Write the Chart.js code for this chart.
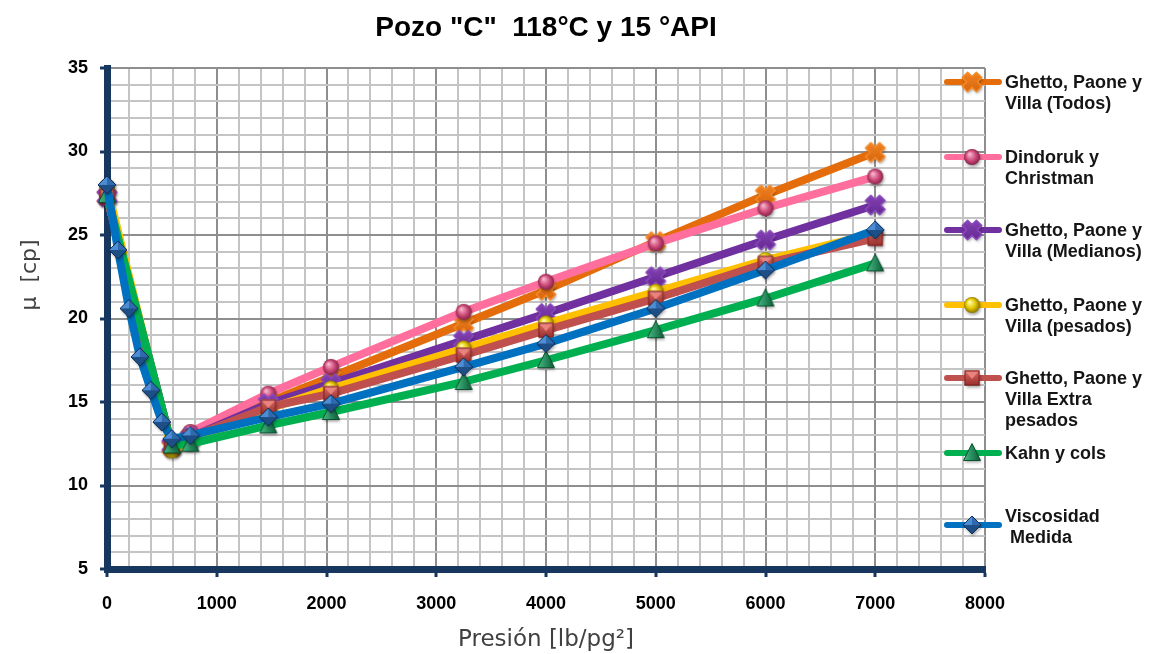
<!DOCTYPE html>
<html>
<head>
<meta charset="utf-8">
<script src="https://cdn.jsdelivr.net/npm/chart.js@4.4.1/dist/chart.umd.min.js"></script>
<style>
  body { margin: 0; background: #fff; }
  #wrap { position: relative; width: 1150px; height: 654px; }
  .item { position: absolute; left: 1005px; font: bold 18px "Liberation Sans", Arial, sans-serif; line-height: 21px; color: #151515; white-space: pre; }
  .swatch { position: absolute; left: 943px; }
</style>
</head>
<body>
<div id="wrap">
  <canvas id="chart" width="1150" height="654"></canvas>
  <div id="legend"></div>
</div>
<script>
// Presion [lb/pg2]
const pressMedida = [0, 100, 200, 300, 400, 500, 590, 760, 1470, 2040, 3250, 4000, 5000, 6000, 7000];
const pressCorr = [0, 590, 760, 1470, 2040, 3250, 4000, 5000, 6000, 7000];

// viscosidad [cp]
const gpvTodos    = [27.3, 12.3, 12.9, 15.0, 16.5, 19.7, 21.7, 24.6, 27.4, 29.95];
const dindoruk    = [27.3, 12.3, 13.2, 15.5, 17.1, 20.4, 22.2, 24.5, 26.6, 28.5];
const gpvMedianos = [27.3, 12.4, 12.9, 14.9, 16.1, 18.7, 20.3, 22.5, 24.7, 26.8];
const gpvPesados  = [27.9, 12.1, 12.6, 14.6, 15.8, 18.2, 19.7, 21.6, 23.5, 25.1];
const gpvExtra    = [27.3, 12.4, 12.9, 14.7, 15.5, 17.8, 19.3, 21.2, 23.3, 24.8];
const kahn        = [27.4, 12.4, 12.5, 13.6, 14.4, 16.2, 17.5, 19.3, 21.2, 23.3];
const medida      = [28.0, 24.1, 20.6, 17.7, 15.7, 13.8, 12.8, 13.0, 14.1, 14.9, 17.1, 18.5, 20.6, 22.9, 25.3];

const yTicks = [5, 10, 15, 20, 25, 30, 35];
const xTicks = [0, 1000, 2000, 3000, 4000, 5000, 6000, 7000, 8000];

const navy = '#17375E';
const FONT = '"Liberation Sans", Arial, sans-serif';

// marcadores
function makeMarker(draw) {
  const c = document.createElement('canvas');
  c.width = 28; c.height = 28;
  const g = c.getContext('2d');
  g.translate(14, 14);
  g.shadowColor = 'rgba(0,0,0,0.35)';
  g.shadowBlur = 3; g.shadowOffsetX = 1; g.shadowOffsetY = 2;
  draw(g);
  return c;
}
function xMarker(light, dark) {
  return makeMarker(g => {
    const w = 3.8, L = 10;
    const pts = [[w,-L],[w,-w],[L,-w],[L,w],[w,w],[w,L],[-w,L],[-w,w],[-L,w],[-L,-w],[-w,-w],[-w,-L]];
    g.rotate(Math.PI / 4);
    g.beginPath();
    pts.forEach((p, i) => i ? g.lineTo(p[0], p[1]) : g.moveTo(p[0], p[1]));
    g.closePath();
    const gr = g.createLinearGradient(-L, -L, L, L);
    gr.addColorStop(0, light); gr.addColorStop(1, dark);
    g.fillStyle = gr; g.fill();
    g.shadowColor = 'transparent';
    g.lineJoin = 'round'; g.lineWidth = 1.5; g.strokeStyle = light; g.stroke();
  });
}
function ball(hi, mid, dark) {
  return makeMarker(g => {
    const gr = g.createRadialGradient(-2.5, -3, 0.5, 0, 0, 8.5);
    gr.addColorStop(0, hi); gr.addColorStop(0.55, mid); gr.addColorStop(1, dark);
    g.beginPath(); g.arc(0, 0, 8, 0, Math.PI * 2);
    g.fillStyle = gr; g.fill();
  });
}
const mkTodos = xMarker('#F58A2A', '#D25F05');
const mkDindoruk = ball('#F7B8CE', '#CF4B7B', '#7E1F42');
const mkMedianos = xMarker('#8A48BC', '#5E2389');
const mkPesados = ball('#FFFFA8', '#E2C400', '#7F6A00');
const mkExtra = makeMarker(g => {
  const gr = g.createLinearGradient(0, -7, 0, 7);
  gr.addColorStop(0, '#DA6662'); gr.addColorStop(1, '#98302D');
  g.fillStyle = gr; g.fillRect(-7.5, -7.5, 15, 15);
  g.shadowColor = 'transparent';
  g.fillStyle = '#E8837F';
  g.beginPath(); g.moveTo(-7.5, -7.5); g.lineTo(7.5, -7.5); g.lineTo(0, 1); g.closePath(); g.fill();
  g.strokeStyle = '#7A2220'; g.lineWidth = 1; g.strokeRect(-7, -7, 14, 14);
});
const mkKahn = makeMarker(g => {
  const gr = g.createLinearGradient(-8, 0, 8, 0);
  gr.addColorStop(0, '#46B984'); gr.addColorStop(1, '#0C5E38');
  g.beginPath(); g.moveTo(0, -9.5); g.lineTo(8.5, 7.5); g.lineTo(-8.5, 7.5); g.closePath();
  g.fillStyle = gr; g.fill();
  g.shadowColor = 'transparent';
  g.strokeStyle = '#0B4F2E'; g.lineWidth = 1; g.stroke();
});
const mkMedida = makeMarker(g => {
  const s = 9;
  g.beginPath(); g.moveTo(0, -s); g.lineTo(s, 0); g.lineTo(0, s); g.lineTo(-s, 0); g.closePath();
  g.fillStyle = '#1E4E86'; g.fill();
  g.shadowColor = 'transparent';
  g.fillStyle = '#4C8DD3';
  g.beginPath(); g.moveTo(0, -s); g.lineTo(-s, 0); g.lineTo(0, 0); g.closePath(); g.fill();
  g.fillStyle = '#2F6AAE';
  g.beginPath(); g.moveTo(0, -s); g.lineTo(s, 0); g.lineTo(0, 0); g.closePath(); g.fill();
  g.strokeStyle = '#0F2D55'; g.lineWidth = 1;
  g.beginPath(); g.moveTo(0, -s); g.lineTo(s, 0); g.lineTo(0, s); g.lineTo(-s, 0); g.closePath(); g.stroke();
});

const series = [
  { label: ['Ghetto, Paone y', 'Villa (Todos)'], x: pressCorr, y: gpvTodos, color: '#E46C0A', marker: mkTodos, ly: 82 },
  { label: ['Dindoruk y', 'Christman'], x: pressCorr, y: dindoruk, color: '#FF6E9C', marker: mkDindoruk, ly: 157 },
  { label: ['Ghetto, Paone y', 'Villa (Medianos)'], x: pressCorr, y: gpvMedianos, color: '#7030A0', marker: mkMedianos, ly: 230 },
  { label: ['Ghetto, Paone y', 'Villa (pesados)'], x: pressCorr, y: gpvPesados, color: '#FFC000', marker: mkPesados, ly: 305 },
  { label: ['Ghetto, Paone y', 'Villa Extra', 'pesados'], x: pressCorr, y: gpvExtra, color: '#C0504D', marker: mkExtra, ly: 378 },
  { label: ['Kahn y cols'], x: pressCorr, y: kahn, color: '#00B050', marker: mkKahn, ly: 453 },
  { label: ['Viscosidad', ' Medida'], x: pressMedida, y: medida, color: '#0070C0', marker: mkMedida, ly: 525, textTop: 506 }
];

const datasets = series.map((s, i) => ({
  label: s.label.join(' '),
  data: s.x.map((p, k) => ({ x: p, y: s.y[k] })),
  borderColor: s.color,
  backgroundColor: s.color,
  borderWidth: 8,
  tension: 0,
  pointStyle: s.marker,
  pointRadius: 9,
  pointHoverRadius: 9,
  clip: false,
  order: series.length - i
}));

// titulo del eje Y
const yTitle = {
  id: 'yTitle',
  afterDraw(chart) {
    const c = chart.ctx;
    c.save();
    c.translate(30, 275);
    c.rotate(-Math.PI / 2);
    c.font = '22px "DejaVu Sans", sans-serif';
    c.fillStyle = '#404040';
    c.textAlign = 'center';
    c.textBaseline = 'middle';
    c.fillText('μ  [cp]', 0, 0);
    c.restore();
  }
};

new Chart(document.getElementById('chart'), {
  type: 'line',
  data: { datasets },
  plugins: [yTitle],
  options: {
    responsive: false,
    animation: false,
    layout: { padding: { top: 0, right: 165, bottom: 0, left: 0 } },
    plugins: {
      legend: { display: false },
      tooltip: { enabled: false },
      title: {
        display: true,
        fullSize: false,
        text: 'Pozo "C"  118°C y 15 °API',
        color: '#000',
        font: { family: FONT, size: 28, weight: 'bold' },
        padding: { top: 11, bottom: 23.4 }
      }
    },
    scales: {
      x: {
        type: 'linear',
        min: 0, max: 8000,
        afterFit: s => { s.height = 85; },
        afterBuildTicks: s => { s.ticks = Array.from({ length: 41 }, (_, i) => ({ value: i * 200 })); },
        ticks: {
          autoSkip: false, maxRotation: 0, padding: 16, color: '#000',
          font: { family: FONT, size: 18, weight: 'bold' },
          callback: v => xTicks.includes(v) ? String(v) : ''
        },
        grid: {
          lineWidth: 2,
          color: c => xTicks.includes(c.tick && c.tick.value) ? '#8E8E8E' : '#C4C4C4',
          tickLength: 8, tickWidth: 3,
          tickColor: c => xTicks.includes(c.tick && c.tick.value) ? navy : 'rgba(0,0,0,0)'
        },
        border: { color: navy, width: 7 },
        title: {
          display: true, text: 'Presión [lb/pg²]', color: '#404040',
          font: { family: '"DejaVu Sans", sans-serif', size: 23 },
          padding: { top: 0, bottom: 0 }
        }
      },
      y: {
        min: 5, max: 35,
        afterFit: s => { s.width = 107; },
        afterBuildTicks: s => { s.ticks = Array.from({ length: 31 }, (_, i) => ({ value: 5 + i })); },
        ticks: {
          autoSkip: false, padding: 12, color: '#000',
          font: { family: FONT, size: 18, weight: 'bold' },
          callback: v => yTicks.includes(v) ? String(v) : ''
        },
        grid: {
          lineWidth: 2,
          color: c => yTicks.includes(c.tick && c.tick.value) ? '#8E8E8E' : '#C4C4C4',
          tickLength: 7, tickWidth: 3,
          tickColor: c => yTicks.includes(c.tick && c.tick.value) ? navy : 'rgba(0,0,0,0)'
        },
        border: { color: navy, width: 7 }
      }
    }
  }
});

// leyenda
const legend = document.getElementById('legend');
series.forEach(s => {
  const sw = document.createElement('canvas');
  sw.width = 60; sw.height = 28;
  sw.className = 'swatch';
  sw.style.top = (s.ly - 14) + 'px';
  const g = sw.getContext('2d');
  g.strokeStyle = s.color; g.lineWidth = 6; g.lineCap = 'round';
  g.beginPath(); g.moveTo(4, 14); g.lineTo(56, 14); g.stroke();
  g.drawImage(s.marker, 29 - 14, 0);
  legend.appendChild(sw);
  const t = document.createElement('div');
  t.className = 'item';
  t.style.top = (s.textTop !== undefined ? s.textTop : s.ly - 10.5) + 'px';
  t.textContent = s.label.join('\n');
  legend.appendChild(t);
});
</script>
</body>
</html>
